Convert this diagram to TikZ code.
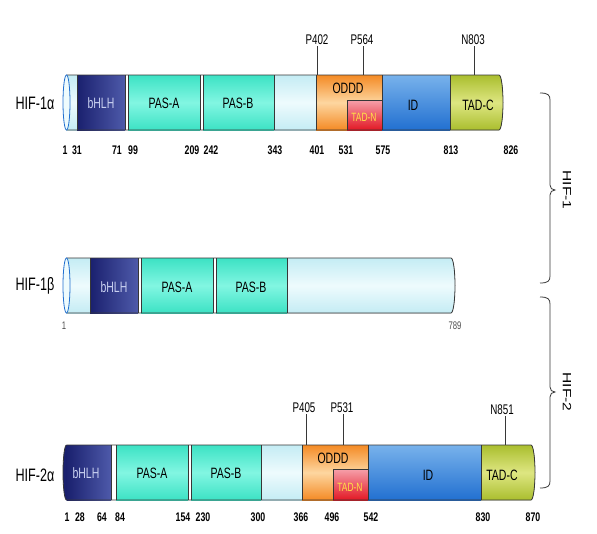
\documentclass[tikz,border=0pt]{standalone}
\usepackage{fontspec}
\setmainfont{Liberation Sans}
\newfontfamily\nar{Liberation Sans}[FakeStretch=0.7]
\newfontfamily\widef{Liberation Sans}[FakeStretch=1.3]
\usetikzlibrary{calc}
\definecolor{liteA}{RGB}{196,236,244}
\definecolor{liteB}{RGB}{238,251,253}
\definecolor{navyA}{RGB}{26,32,110}
\definecolor{navyB}{RGB}{78,90,170}
\definecolor{pasA}{RGB}{60,226,196}
\definecolor{pasB}{RGB}{130,246,226}
\definecolor{orA}{RGB}{244,138,36}
\definecolor{orB}{RGB}{253,214,160}
\definecolor{redA}{RGB}{226,24,36}
\definecolor{redB}{RGB}{246,160,170}
\definecolor{idA}{RGB}{34,112,208}
\definecolor{idB}{RGB}{120,178,236}
\definecolor{grA}{RGB}{170,190,46}
\definecolor{grB}{RGB}{222,230,130}
\definecolor{outc}{RGB}{55,55,55}
\definecolor{bhtxt}{RGB}{200,208,240}
\definecolor{tadtxt}{RGB}{255,228,70}
\tikzset{
  lite/.style={top color=liteA,bottom color=liteA,middle color=liteB},
  bhlh/.style={left color=navyA,right color=navyB},
  pas/.style={top color=pasA,bottom color=pasA,middle color=pasB},
  oddd/.style={top color=orA,bottom color=orA,middle color=orB},
  tadn/.style={top color=redB,bottom color=redA},
  idc/.style={top color=idB,bottom color=idA},
  tadc/.style={top color=grA,bottom color=grA,middle color=grB},
  outl/.style={draw=outc,line width=0.8pt},
  divl/.style={draw=outc,line width=0.6pt},
  prot/.style={font=\nar\fontsize{18}{18}\selectfont,inner sep=0pt},
  dom/.style={font=\nar\fontsize{15}{15}\selectfont,inner sep=0pt},
  num/.style={font=\nar\bfseries\fontsize{12.5}{12.5}\selectfont,inner sep=0pt},
  small/.style={font=\nar\fontsize{11}{11}\selectfont,inner sep=0pt,text=black!70},
  site/.style={font=\nar\fontsize{14}{14}\selectfont,inner sep=1pt},
  sline/.style={draw=outc,line width=0.8pt},
  brc/.style={draw=outc,line width=0.8pt},
  grp/.style={font=\widef\fontsize{12}{12}\selectfont,inner sep=0pt,rotate=-90},
}
\begin{document}
\begin{tikzpicture}[x=1pt,y=-1pt]
\useasboundingbox[fill=white] (0,0) rectangle (597,533);

% ================= HIF-1alpha =================
\fill[lite] (66.5,75) rectangle (77,130);
\fill[liteB] (66.5,102.5) ellipse [x radius=3.5,y radius=27.5];
\fill[bhlh] (77,75) rectangle (125,130);
\fill[white] (125,75) rectangle (128,130);
\fill[pas] (128,75) rectangle (200,130);
\fill[white] (200,75) rectangle (203,130);
\fill[pas] (203,75) rectangle (274,130);
\fill[lite] (274,75) rectangle (316,130);
\fill[oddd] (316,75) rectangle (382,130);
\fill[tadn] (347,100) rectangle (382,130);
\fill[idc] (382,75) rectangle (450,130);
\fill[tadc] (450,75) -- (499,75) arc[start angle=-90,end angle=90,x radius=4,y radius=27.5] -- (450,130) -- cycle;
\foreach \x in {77,125,128,200,203,274,316,382,450} \draw[divl] (\x,75) -- (\x,130);
\draw[outl] (347,130) -- (347,100) -- (382,100);
\draw[outl] (66.5,75) -- (499,75) arc[start angle=-90,end angle=90,x radius=4,y radius=27.5] -- (66.5,130);
\draw[draw=idA,line width=0.8pt] (66.5,102.5) ellipse [x radius=3.5,y radius=27.5];

\node[prot] (l1a) at (35,103) {HIF-1α};
\node[dom,text=bhtxt] (a1) at (101,103) {bHLH};
\node[dom] (a2) at (164,103) {PAS-A};
\node[dom] (a3) at (238,103) {PAS-B};
\node[dom] (a4) at (348,88) {ODDD};
\node[dom,text=tadtxt,font=\nar\fontsize{12}{12}\selectfont] (a5) at (364,117) {TAD-N};
\node[dom] (a6) at (413,105) {ID};
\node[dom] (a7) at (478,105) {TAD-C};

\node[site] (s1) at (317,40) {P402};
\node[site] (s2) at (362,40) {P564};
\node[site] (s3) at (473,40) {N803};
\coordinate (c1) at (317,75);
\coordinate (c2) at (363,75);
\coordinate (c3) at (474,75);
\draw[sline] (s1.south) -- (c1);
\draw[sline] (s2.south -| c2) -- (c2);
\draw[sline] (s3.south -| c3) -- (c3);

\foreach \p/\n in {65/1,77/31,117/71,133/99,192/209,211/242,275/343,317/401,346/531,383/575,451/813,511/826}
  \node[num] (na\n) at (\p,150) {\n};

% ================= HIF-1beta =================
\fill[lite] (66.5,258) rectangle (90,313);
\fill[liteB] (66.5,285.5) ellipse [x radius=3.5,y radius=27.5];
\fill[bhlh] (90,258) rectangle (138,313);
\fill[white] (138,258) rectangle (141,313);
\fill[pas] (141,258) rectangle (213,313);
\fill[white] (213,258) rectangle (216,313);
\fill[pas] (216,258) rectangle (287,313);
\fill[lite] (287,258) -- (451,258) arc[start angle=-90,end angle=90,x radius=4,y radius=27.5] -- (287,313) -- cycle;
\foreach \x in {90,138,141,213,216,287} \draw[divl] (\x,258) -- (\x,313);
\draw[outl] (66.5,258) -- (451,258) arc[start angle=-90,end angle=90,x radius=4,y radius=27.5] -- (66.5,313);
\draw[draw=idA,line width=0.8pt] (66.5,285.5) ellipse [x radius=3.5,y radius=27.5];

\node[prot] (l1b) at (35,286) {HIF-1β};
\node[dom,text=bhtxt] (b1) at (114,287) {bHLH};
\node[dom] (b2) at (177,287) {PAS-A};
\node[dom] (b3) at (251,287) {PAS-B};
\node[small] (nb1) at (64,326) {1};
\node[small] (nb2) at (455,326) {789};

% ================= HIF-2alpha =================
\fill[navyA] (66.5,472.5) ellipse [x radius=3.5,y radius=27.5];
\fill[bhlh] (66.5,445) rectangle (111,500);
\fill[white] (111,445) rectangle (116,500);
\fill[pas] (116,445) rectangle (188,500);
\fill[white] (188,445) rectangle (191,500);
\fill[pas] (191,445) rectangle (261,500);
\fill[lite] (261,445) rectangle (302,500);
\fill[oddd] (302,445) rectangle (368,500);
\fill[tadn] (333,469) rectangle (368,500);
\fill[idc] (368,445) rectangle (481,500);
\fill[tadc] (481,445) -- (531,445) arc[start angle=-90,end angle=90,x radius=4,y radius=27.5] -- (481,500) -- cycle;
\foreach \x in {111,116,188,191,261,302,368,481} \draw[divl] (\x,445) -- (\x,500);
\draw[outl] (333,500) -- (333,469) -- (368,469);
\draw[outl] (66.5,445) -- (531,445) arc[start angle=-90,end angle=90,x radius=4,y radius=27.5] -- (66.5,500);
\draw[outl] (66.5,445) arc[start angle=-90,end angle=-270,x radius=3.5,y radius=27.5];

\node[prot] (l2a) at (35,475) {HIF-2α};
\node[dom,text=bhtxt] (c1n) at (86,473) {bHLH};
\node[dom] (c2n) at (152,473) {PAS-A};
\node[dom] (c3n) at (226,473) {PAS-B};
\node[dom] (c4n) at (333,458) {ODDD};
\node[dom,text=tadtxt,font=\nar\fontsize{12}{12}\selectfont] (c5n) at (350,487) {TAD-N};
\node[dom] (c6n) at (428,475) {ID};
\node[dom] (c7n) at (502,475) {TAD-C};

\node[site] (t1) at (304,408) {P405};
\node[site] (t2) at (342,408) {P531};
\node[site] (t3) at (502,410) {N851};
\coordinate (d1) at (306,445);
\coordinate (d2) at (343,445);
\coordinate (d3) at (505,445);
\draw[sline] (t1.south -| d1) -- (d1);
\draw[sline] (t2.south -| d2) -- (d2);
\draw[sline] (t3.south -| d3) -- (d3);

\foreach \p/\n in {67/1,80/28,102/64,120/84,183/154,203/230,258/300,301/366,332/496,371/542,483/830,533/870}
  \node[num] (nc\n) at (\p,517) {\n};

% ================= braces =================
\coordinate (b1t) at (540,93);
\coordinate (b1b) at (540,283);
\coordinate (b2t) at (540,297);
\coordinate (b2b) at (540,488);
\draw[brc] (b1t) .. controls (548,93) and (550,95) .. (550,100) -- (550,185)
  .. controls (550,188) and (552,190) .. (555,190)
  .. controls (552,190) and (550,192) .. (550,195) -- (550,276)
  .. controls (550,281) and (548,283) .. (b1b);
\draw[brc] (b2t) .. controls (548,297) and (550,299) .. (550,304) -- (550,387)
  .. controls (550,390) and (552,392) .. (555,392)
  .. controls (552,392) and (550,394) .. (550,397) -- (550,481)
  .. controls (550,486) and (548,488) .. (b2b);
\node[grp] (g1) at (567,190) {HIF-1};
\node[grp] (g2) at (567,392) {HIF-2};
\end{tikzpicture}
\end{document}
